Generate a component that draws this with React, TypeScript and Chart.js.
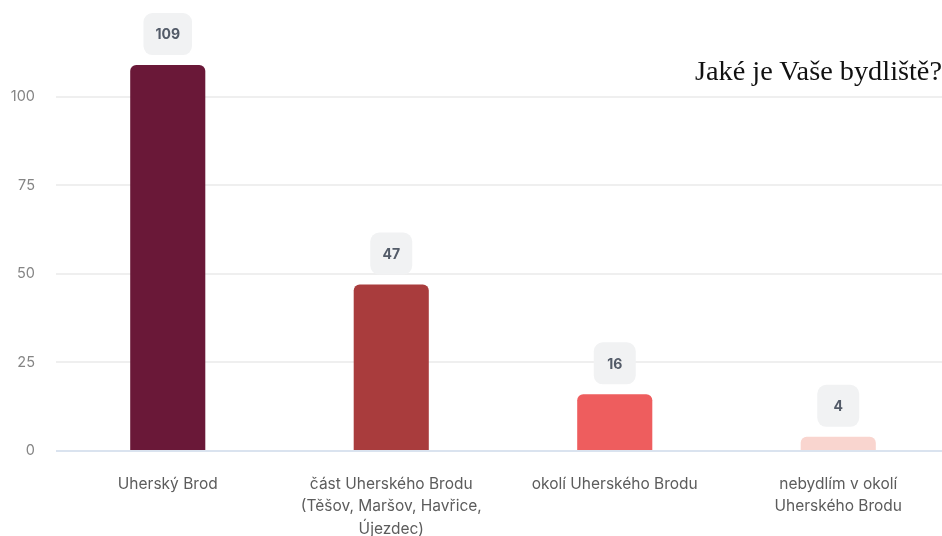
import React, { useEffect, useRef } from "react";
import { Chart, registerables } from "chart.js";

Chart.register(...registerables);

const categories: string[][] = [
  ["Uherský Brod"],
  ["část Uherského Brodu", "(Těšov, Maršov, Havřice,", "Újezdec)"],
  ["okolí Uherského Brodu"],
  ["nebydlím v okolí", "Uherského Brodu"],
];
const values: number[] = [109, 47, 16, 4];
const barColors: string[] = ["#6a1838", "#a93c3d", "#ee5d5e", "#f9d5cf"];
const yTicks: number[] = [0, 25, 50, 75, 100];
const titleText = "Jaké je Vaše bydliště?";

const valueBoxPlugin = {
  id: "valueBoxes",
  afterDatasetsDraw(chart: any) {
    const ctx = chart.ctx;
    const meta = chart.getDatasetMeta(0);
    ctx.save();
    ctx.font = "bold 14px Inter, 'Noto Sans', sans-serif";
    ctx.textAlign = "center";
    ctx.textBaseline = "middle";
    meta.data.forEach((bar: any, i: number) => {
      const text = String(chart.data.datasets[0].data[i]);
      const tw = ctx.measureText(text).width;
      const w = Math.max(42, tw + 24);
      const h = 42;
      const bottom = bar.y - 10;
      const x = bar.x - w / 2;
      const y = bottom - h;
      ctx.fillStyle = "#f1f2f3";
      ctx.beginPath();
      (ctx as any).roundRect(x, y, w, h, 9);
      ctx.fill();
      ctx.fillStyle = "#535b68";
      ctx.fillText(text, bar.x, y + h / 2 + 1);
    });
    ctx.restore();
  },
};

export default function App() {
  const canvasRef = useRef<HTMLCanvasElement | null>(null);

  useEffect(() => {
    if (!canvasRef.current) return;
    const chart = new Chart(canvasRef.current, {
      type: "bar",
      data: {
        labels: categories,
        datasets: [
          {
            data: values,
            backgroundColor: barColors,
            borderRadius: 6,
            borderSkipped: "start",
            barPercentage: 0.336,
            categoryPercentage: 1,
          },
        ],
      },
      options: {
        responsive: false,
        animation: false,
        devicePixelRatio: 1,
        layout: { padding: { top: 0, left: 0, right: 0, bottom: 0 } },
        plugins: {
          legend: { display: false },
          tooltip: { enabled: false },
          title: { display: false },
        },
        scales: {
          x: {
            grid: { display: false },
            border: { display: false },
            ticks: {
              color: "#5c5c5c",
              font: { family: "Inter, 'Noto Sans', sans-serif", size: 15.5, lineHeight: 1.45 },
              padding: 14,
              maxRotation: 0,
              autoSkip: false,
            },
            afterFit: (s: any) => {
              s.height = 85;
            },
          },
          y: {
            min: 0,
            max: 119,
            border: { display: false },
            grid: {
              drawTicks: false,
              lineWidth: 2,
              color: (c: any) => (c.tick && c.tick.value === 0 ? "#dae3ef" : "#efefef"),
            },
            ticks: {
              color: "#858585",
              font: { family: "Inter, 'Noto Sans', sans-serif", size: 14.5 },
              padding: 21,
            },
            afterBuildTicks: (s: any) => {
              s.ticks = yTicks.map((v) => ({ value: v }));
            },
            afterFit: (s: any) => {
              s.width = 56;
            },
          },
        },
      },
      plugins: [valueBoxPlugin],
    });
    return () => chart.destroy();
  }, []);

  return (
    <div
      style={{
        position: "fixed",
        left: 0,
        top: 0,
        width: 942,
        height: 536,
        overflow: "hidden",
        background: "#ffffff",
      }}
    >
      <canvas
        ref={canvasRef}
        width={950}
        height={536}
        style={{ position: "absolute", left: 0, top: 0, width: 950, height: 536 }}
      />
      <div
        style={{
          position: "absolute",
          right: 0,
          top: 57,
          fontFamily: "'Liberation Serif', 'Times New Roman', serif",
          fontSize: 28.3,
          lineHeight: "28px",
          color: "#111111",
          whiteSpace: "nowrap",
        }}
      >
        {titleText}
      </div>
    </div>
  );
}
